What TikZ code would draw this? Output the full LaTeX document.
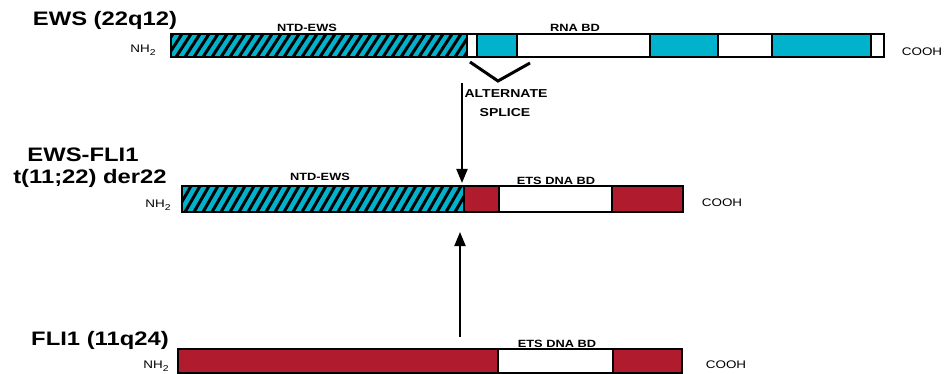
\documentclass[tikz,border=0pt]{standalone}
\usepackage{fontspec}
\setmainfont{Liberation Sans}
\usetikzlibrary{arrows.meta}
\definecolor{ewscyan}{RGB}{0,178,204}
\definecolor{flired}{RGB}{176,28,46}
\newcommand{\hs}[1]{\scalebox{1.22}[1]{#1}}
\newcommand{\nhtwo}{NH\raisebox{-3pt}{\fontsize{8.5}{8.5}\selectfont 2}}
\newcommand{\hatchbar}[4]{%
  \begin{scope}
    \clip (#1,#2) rectangle (#3,#4);
    \fill[ewscyan] (#1,#2) rectangle (#3,#4);
    \foreach \k in {140,149,...,480} \draw[line width=3pt] (\k,#4) -- ({\k+15},#2);
  \end{scope}}
\begin{document}
\begin{tikzpicture}[x=1pt,y=-1pt,
  title/.style={font=\bfseries\fontsize{19.5}{22}\selectfont, inner sep=0},
  dom/.style={font=\bfseries\fontsize{10.5}{12}\selectfont, inner sep=0},
  term/.style={font=\fontsize{11}{12}\selectfont, inner sep=0},
  seg/.style={draw=black, line width=1.6pt},
  arr/.style={line width=2pt, -{Triangle[length=14pt,width=11pt]}}]
\useasboundingbox (0,0) rectangle (944,374);

% ---------- EWS ----------
\node[title] (tews) at (105,20) {\hs{EWS (22q12)}};
\hatchbar{171}{34}{467}{57}
\fill[white] (467,34) rectangle (477,57);
\fill[ewscyan] (477,34) rectangle (517,57);
\fill[white] (517,34) rectangle (650,57);
\fill[ewscyan] (650,34) rectangle (718,57);
\fill[white] (718,34) rectangle (772,57);
\fill[ewscyan] (772,34) rectangle (871,57);
\fill[white] (871,34) rectangle (884,57);
\foreach \xx in {467,477,517,650,718,772,871} \draw[seg] (\xx,34) -- (\xx,57);
\draw[seg] (171,34) rectangle (884,57);
\node[dom] (ntd1) at (307,28) {\hs{NTD-EWS}};
\node[dom] (rna) at (575,28) {\hs{RNA BD}};
\node[term] (nh1) at (143,50) {\hs{\nhtwo}};
\node[term] (cooh1) at (922,52) {\hs{COOH}};

% alternate splice
\coordinate (v1) at (470,62);
\coordinate (v2) at (498,81);
\coordinate (v3) at (530,63);
\draw[line width=3pt] (v1) -- (v2) -- (v3);
\node[dom, font=\bfseries\fontsize{11.5}{13}\selectfont] (alt) at (506,94) {\hs{ALTERNATE}};
\node[dom, font=\bfseries\fontsize{11.5}{13}\selectfont] (spl) at (505,113) {\hs{SPLICE}};

% ---------- EWS-FLI1 ----------
\node[title] (tfus1) at (83,155) {\hs{EWS-FLI1}};
\node[title] (tfus2) at (90,178) {\hs{t(11;22) der22}};
\hatchbar{182}{186}{464}{212}
\fill[flired] (464,186) rectangle (499,212);
\fill[white] (499,186) rectangle (612,212);
\fill[flired] (612,186) rectangle (683,212);
\foreach \xx in {464,499,612} \draw[seg] (\xx,186) -- (\xx,212);
\draw[seg] (182,186) rectangle (683,212);
\node[dom] (ntd2) at (320,177) {\hs{NTD-EWS}};
\node[dom] (ets1) at (556,181) {\hs{ETS DNA BD}};
\node[term] (nh2) at (158,205) {\hs{\nhtwo}};
\node[term] (cooh2) at (722,203) {\hs{COOH}};

% ---------- FLI1 ----------
\node[title] (tfli) at (100,340) {\hs{FLI1 (11q24)}};
\fill[flired] (178,349) rectangle (498,373);
\fill[white] (498,349) rectangle (613,373);
\fill[flired] (613,349) rectangle (682,373);
\foreach \xx in {498,613} \draw[seg] (\xx,349) -- (\xx,373);
\draw[seg] (178,349) rectangle (682,373);
\node[dom] (ets2) at (557,344) {\hs{ETS DNA BD}};
\node[term] (nh3) at (156,366) {\hs{\nhtwo}};
\node[term] (cooh3) at (726,365) {\hs{COOH}};

% ---------- arrows ----------
\coordinate (dtop) at (462,83);
\coordinate (dtip) at (462,183);
\draw[arr] (dtop) -- (dtip);
\coordinate (ubot) at (460,337);
\coordinate (utip) at (460,232);
\draw[arr] (ubot) -- (utip);
\end{tikzpicture}
\end{document}
